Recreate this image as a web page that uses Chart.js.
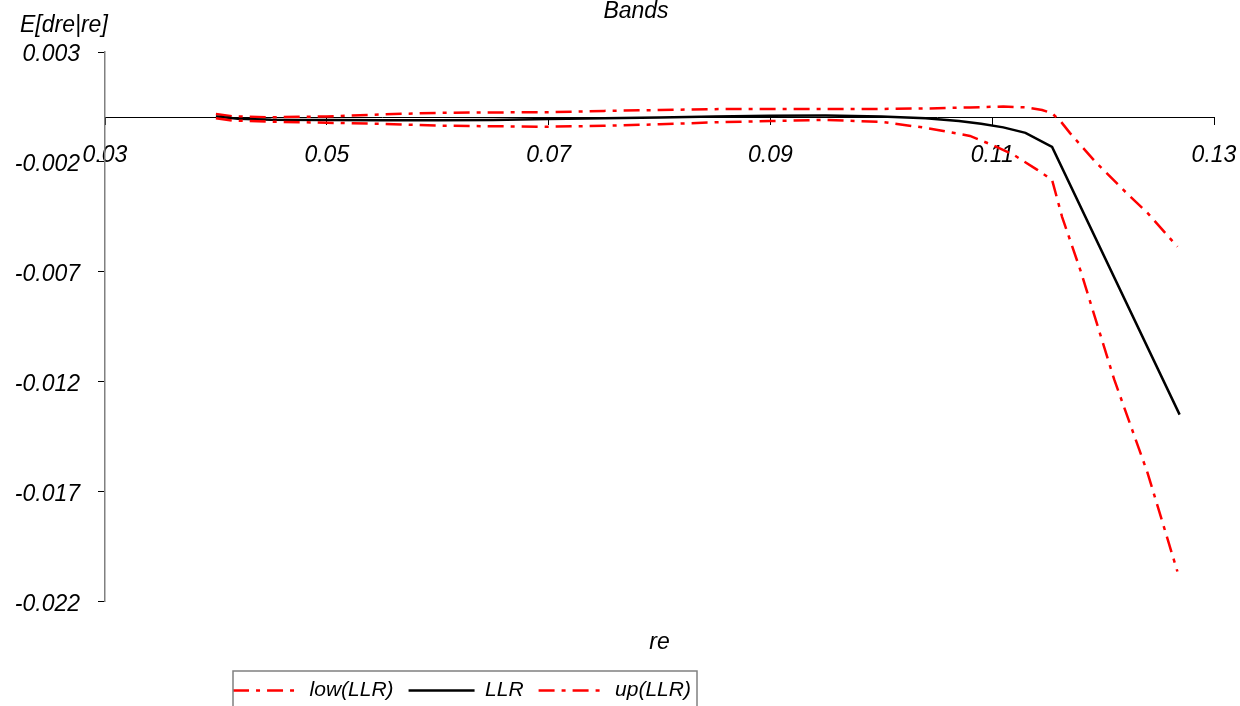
<!DOCTYPE html>
<html>
<head>
<meta charset="utf-8">
<title>Bands</title>
<script src="https://cdn.jsdelivr.net/npm/chart.js@4.4.1/dist/chart.umd.min.js"></script>
<style>
  html, body { margin: 0; padding: 0; background: #fff; }
  #wrap { width: 1240px; height: 706px; }
</style>
</head>
<body>
<div id="wrap"><canvas id="chart" width="1240" height="706"></canvas></div>
<script>
// Tick labels
var xTicks = [0.03, 0.05, 0.07, 0.09, 0.11, 0.13];
var yTicks = [0.003, -0.002, -0.007, -0.012, -0.017, -0.022];

// low(LLR) band
var lowRe  = [0.040, 0.0415, 0.045, 0.050, 0.055, 0.060, 0.065, 0.070, 0.075, 0.080, 0.085, 0.090, 0.095, 0.100, 0.104, 0.108, 0.110, 0.112, 0.114, 0.1154, 0.1163, 0.118, 0.121, 0.124, 0.1267];
var lowVal = [-0.00001, -0.00012, -0.00017, -0.00022, -0.00027, -0.00035, -0.00038, -0.0004, -0.00036, -0.00029, -0.0002, -0.00014, -0.00009, -0.00018, -0.00045, -0.00082, -0.00123, -0.0017, -0.00234, -0.00282, -0.0045, -0.007, -0.0119, -0.01614, -0.02064];

// LLR estimate
var llrRe  = [0.040, 0.042, 0.045, 0.050, 0.055, 0.060, 0.065, 0.070, 0.075, 0.080, 0.085, 0.090, 0.095, 0.100, 0.104, 0.107, 0.109, 0.111, 0.113, 0.1154, 0.1269];
var llrVal = [0.00006, -0.00004, -0.00008, -0.00009, -0.0001, -0.0001, -0.00009, -0.00005, -0.00002, 0.00002, 0.00007, 0.0001, 0.00011, 0.00007, -0.00001, -0.00014, -0.00027, -0.00043, -0.00068, -0.00132, -0.0135];

// up(LLR) band
var upRe  = [0.040, 0.0415, 0.045, 0.050, 0.055, 0.060, 0.065, 0.070, 0.075, 0.080, 0.085, 0.090, 0.095, 0.100, 0.104, 0.108, 0.111, 0.113, 0.1145, 0.1154, 0.1162, 0.117, 0.1194, 0.1221, 0.124, 0.1267];
var upVal = [0.00018, 0.00007, 0.00003, 0.00007, 0.00016, 0.00023, 0.00025, 0.00026, 0.00032, 0.00036, 0.0004, 0.00041, 0.00041, 0.00041, 0.00043, 0.00048, 0.00052, 0.00048, 0.00036, 0.00021, -0.00017, -0.00068, -0.00205, -0.00341, -0.00432, -0.00586];

function toPoints(xs, ys) {
  return xs.map(function(x, i) { return { x: x, y: ys[i] }; });
}

Chart.defaults.font.family = "'Liberation Sans', Arial, sans-serif";
Chart.defaults.color = "#000";

var redDash = [16, 7, 4, 7];

// move legend and title to where the original has them
var blockShift = {
  id: "blockShift",
  afterLayout: function(chart) {
    var lg = chart.legend;
    var dx = 462 - (lg.left + lg.right) / 2;
    lg.left += dx;
    lg.right += dx;
    lg.top += 5;
    lg.bottom += 5;

    var tb = chart.titleBlock;
    tb.left += 29;
    tb.right += 29;
  }
};

// legend frame and the horizontal y axis title
var extras = {
  id: "extras",
  afterDraw: function(chart) {
    var ctx = chart.ctx;
    var lg = chart.legend;
    var cx = (lg.left + lg.right) / 2;
    ctx.save();
    ctx.strokeStyle = "#808080";
    ctx.lineWidth = 1.5;
    ctx.strokeRect(cx - 229, lg.top + 6, 464, 60);

    ctx.fillStyle = "#000";
    ctx.font = "italic 23px 'Liberation Sans', Arial, sans-serif";
    ctx.textAlign = "left";
    ctx.textBaseline = "alphabetic";
    ctx.fillText("E[dre|re]", chart.chartArea.left - 85, chart.chartArea.top - 20);
    ctx.restore();
  }
};

var ctx = document.getElementById("chart").getContext("2d");

new Chart(ctx, {
  type: "scatter",
  data: {
    datasets: [
      {
        label: "low(LLR)",
        data: toPoints(lowRe, lowVal),
        showLine: true,
        borderColor: "#ff0000",
        backgroundColor: "#ff0000",
        borderWidth: 2.5,
        borderDash: redDash,
        pointRadius: 0,
        tension: 0
      },
      {
        label: "LLR",
        data: toPoints(llrRe, llrVal),
        showLine: true,
        borderColor: "#000000",
        backgroundColor: "#000000",
        borderWidth: 2.5,
        pointRadius: 0,
        tension: 0
      },
      {
        label: "up(LLR)",
        data: toPoints(upRe, upVal),
        showLine: true,
        borderColor: "#ff0000",
        backgroundColor: "#ff0000",
        borderWidth: 2.5,
        borderDash: redDash,
        pointRadius: 0,
        tension: 0
      }
    ]
  },
  options: {
    responsive: false,
    animation: false,
    layout: { padding: { left: 0, right: 26, top: 0, bottom: 0 } },
    plugins: {
      title: {
        display: true,
        text: "Bands",
        color: "#000",
        font: { size: 23, style: "italic", weight: "normal", lineHeight: 1 },
        padding: { top: 0, bottom: 29 }
      },
      legend: {
        position: "bottom",
        labels: {
          color: "#000",
          font: { size: 21, style: "italic" },
          usePointStyle: true,
          pointStyle: "line",
          pointStyleWidth: 66,
          padding: 15,
          generateLabels: function(chart) {
            var items = Chart.defaults.plugins.legend.labels.generateLabels(chart);
            items.forEach(function(item) {
              var ds = chart.data.datasets[item.datasetIndex];
              item.lineDash = ds.borderDash || [];
              item.lineWidth = ds.borderWidth;
              item.strokeStyle = ds.borderColor;
            });
            return items;
          }
        }
      },
      tooltip: { enabled: false }
    },
    scales: {
      x: {
        type: "linear",
        position: { y: 0 },
        min: 0.03,
        max: 0.13,
        afterBuildTicks: function(scale) {
          scale.ticks = xTicks.map(function(v) { return { value: v }; });
        },
        afterFit: function(scale) {
          scale.paddingLeft = 0;
          scale.paddingRight = 0;
        },
        ticks: {
          color: "#000",
          font: { size: 23, style: "italic" },
          padding: 17,
          maxRotation: 0,
          callback: function(v) { return v.toFixed(2); }
        },
        grid: { drawOnChartArea: false, tickLength: 7, tickColor: "#000", tickWidth: 1 },
        border: { color: "#000", width: 1 }
      },
      x2: {
        type: "linear",
        axis: "x",
        position: "bottom",
        afterFit: function(scale) {
          scale.paddingLeft = 0;
          scale.paddingRight = 0;
        },
        ticks: { display: false },
        grid: { display: false },
        border: { display: false },
        title: {
          display: true,
          text: "re",
          color: "#000",
          font: { size: 23, style: "italic" },
          padding: { top: 19, bottom: 4 }
        }
      },
      y: {
        type: "linear",
        position: "left",
        min: -0.022,
        max: 0.003,
        afterBuildTicks: function(scale) {
          scale.ticks = yTicks.map(function(v) { return { value: v }; });
        },
        afterFit: function(scale) {
          scale.width = 105;
        },
        ticks: {
          color: "#000",
          font: { size: 23, style: "italic" },
          padding: 18,
          labelOffset: 3,
          callback: function(v) { return v.toFixed(3); }
        },
        grid: { drawOnChartArea: false, tickLength: 7, tickColor: "#000", tickWidth: 1 },
        border: { color: "#808080", width: 1.5 }
      }
    }
  },
  plugins: [blockShift, extras]
});
</script>
</body>
</html>
